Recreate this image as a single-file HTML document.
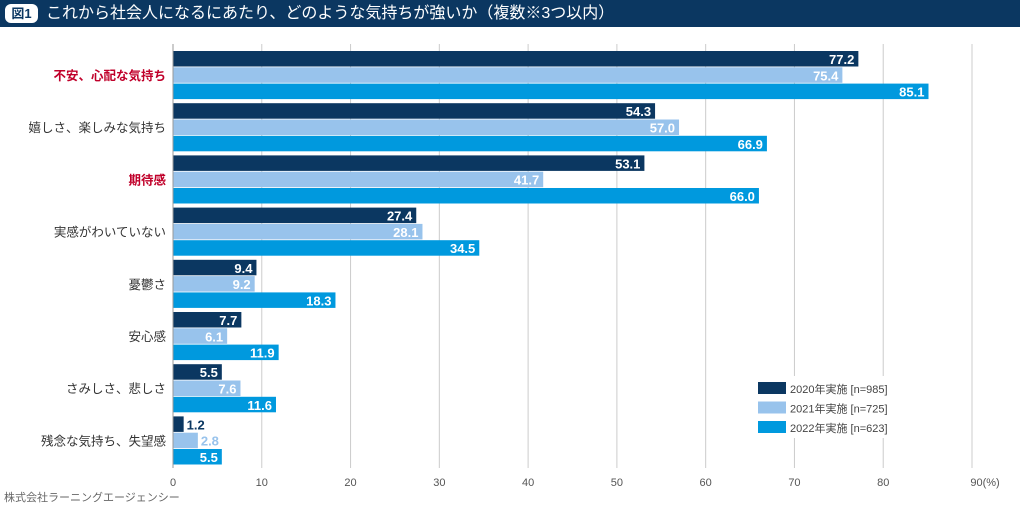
<!DOCTYPE html>
<html><head><meta charset="utf-8"><style>
body{margin:0;width:1020px;height:510px;background:#fff;overflow:hidden;font-family:"Liberation Sans","Noto Sans CJK JP",sans-serif}
#title{position:absolute;left:0;top:0;width:1020px;height:27px;background:#0b3761;color:#fff;font-size:16px;line-height:27px}
#tag{position:absolute;left:5px;top:4px;width:33px;height:19px;border-radius:6px;background:#fff;color:#0b3761;font-size:13px;line-height:19px;text-align:center;font-weight:bold}
#ttext{position:absolute;left:46px;top:0}
</style></head><body>
<div id="title"><div id="tag">図1</div><div id="ttext">これから社会人になるにあたり、どのような気持ちが強いか（複数※3つ以内）</div></div>
<svg id="chart" width="1020" height="510" style="position:absolute;left:0;top:0"></svg>
<script>
const categories=["不安、心配な気持ち","嬉しさ、楽しみな気持ち","期待感","実感がわいていない","憂鬱さ","安心感","さみしさ、悲しさ","残念な気持ち、失望感"];
const highlight=[true,false,true,false,false,false,false,false];
const s2020=[77.2,54.3,53.1,27.4,9.4,7.7,5.5,1.2];
const s2021=[75.4,57.0,41.7,28.1,9.2,6.1,7.6,2.8];
const s2022=[85.1,66.9,66.0,34.5,18.3,11.9,11.6,5.5];
const ticks=[0,10,20,30,40,50,60,70,80,90];
const seriesNames=["2020年実施 [n=985]","2021年実施 [n=725]","2022年実施 [n=623]"];
const colors=["#0b3761","#98c3ec","#0099de"];
const NS="http://www.w3.org/2000/svg";
const svg=document.getElementById('chart');
const x=v=>173+v*(972-173)/90;
const gy=i=>51+i*52.2;
function mk(t,a,txt){const e=document.createElementNS(NS,t);for(const k in a)e.setAttribute(k,a[k]);if(txt!=null)e.textContent=txt;svg.appendChild(e);return e;}
ticks.forEach(t=>{
 const l=mk('line',{x1:x(t),x2:x(t),y1:44,y2:468,stroke:'#ccc','stroke-width':1});
 
 
 const tx=mk('text',{x:x(t),y:486,'text-anchor':'middle','font-size':11,fill:'#555'},t===90?'90(%)':String(t));
 if(t===90){tx.setAttribute('x',x(t)+13);}
 
 
});
const lb=mk('rect',{x:752,y:376,width:160,height:62,fill:'#fff'});


const series=[s2020,s2021,s2022];
categories.forEach((c,i)=>{
 const lbl=mk('text',{x:166,y:gy(i)+29,'text-anchor':'end','font-size':12.5,fill:highlight[i]?'#c0002a':'#333','font-weight':highlight[i]?'bold':'normal'},c);
 
 
 series.forEach((s,j)=>{
  const v=s[i];const y=gy(i)+j*16.3;
  const r=mk('rect',{x:x(0),y:y,width:x(v)-x(0),height:15.5,fill:colors[j]});
  
  
  const w=x(v)-x(0);
  let t;
  if(w>30){t=mk('text',{x:x(v)-4,y:y+13,'text-anchor':'end','font-size':13,'font-weight':'bold',fill:'#fff'},v.toFixed(1));}
  else{t=mk('text',{x:x(v)+3,y:y+13,'text-anchor':'start','font-size':13,'font-weight':'bold',fill:colors[j]},v.toFixed(1));}
  
  
 });
});
mk('line',{x1:x(0),x2:x(0),y1:44,y2:468,stroke:'#999','stroke-width':1});
seriesNames.forEach((n,j)=>{
 const y=382+j*19.5;
 const r=mk('rect',{x:758,y:y,width:28,height:12,fill:colors[j]});
 
 
 const t=mk('text',{x:790,y:y+11,'font-size':11,fill:'#444'},n);
 
 
});
const src=mk('text',{x:4,y:501,'font-size':11,fill:'#666'},'株式会社ラーニングエージェンシー');


</script>
</body></html>
